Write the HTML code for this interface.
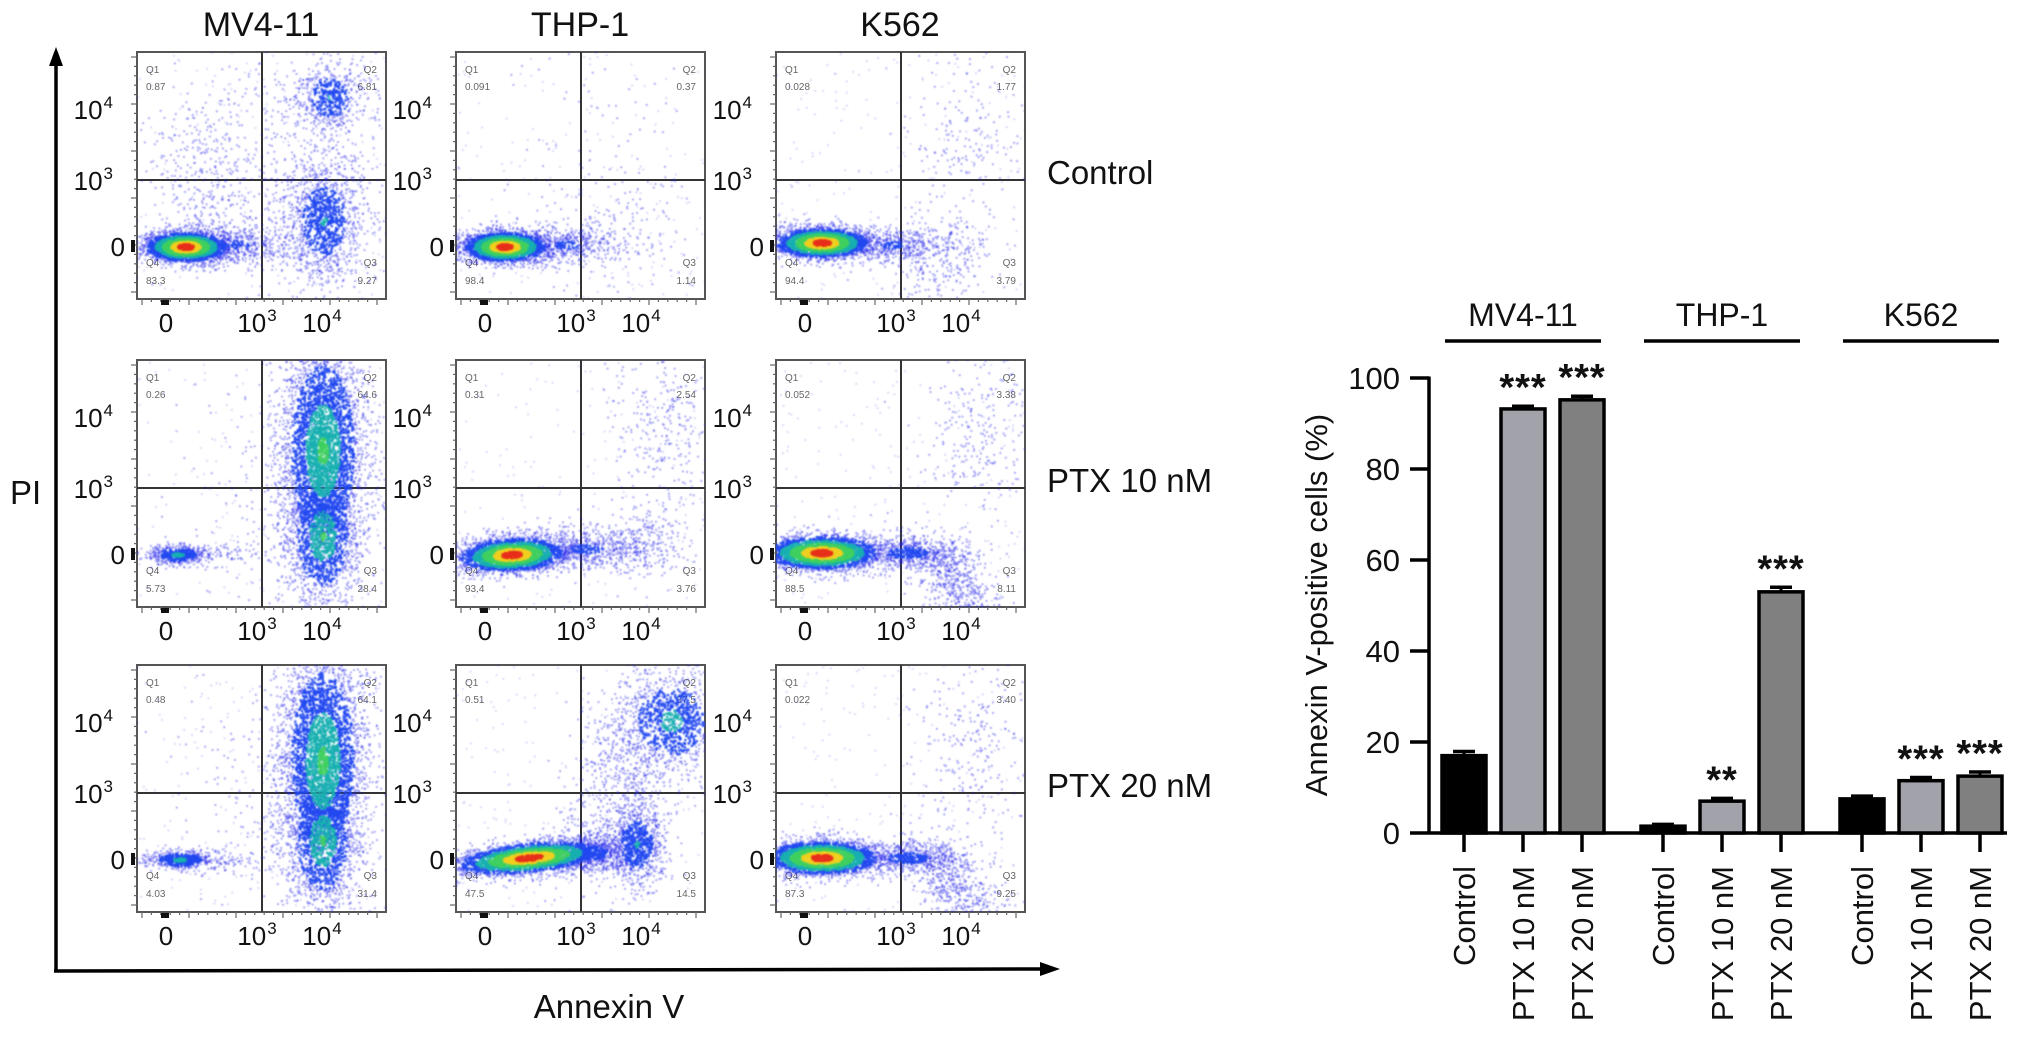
<!DOCTYPE html>
<html><head><meta charset="utf-8"><style>
html,body{margin:0;padding:0;background:#fff;}
#root{position:relative;width:2032px;height:1045px;overflow:hidden;font-family:"Liberation Sans",Arial,sans-serif;}
canvas{position:absolute;filter:blur(0.5px);}
svg{position:absolute;left:0;top:0;}
</style></head><body>
<div id="root">
<svg id="main" width="2032" height="1045"></svg>
</div>
<script>
// ---------- Bar chart data ----------
const groups = ["MV4-11", "THP-1", "K562"];
const conditions = ["Control", "PTX 10 nM", "PTX 20 nM"];
const values = [17.0, 93.2, 95.2, 1.5, 7.0, 53.0, 7.5, 11.5, 12.5];
const errors = [0.9, 0.6, 0.8, 0.4, 0.6, 1.0, 0.6, 0.7, 0.9];
const stars = ["", "***", "***", "", "**", "***", "", "***", "***"];
const yTicks = [0, 20, 40, 60, 80, 100];
const barColors = ["#000000", "#a2a2aa", "#808080"];

// ---------- Flow panel labels ----------
const rowLabels = ["Control", "PTX 10 nM", "PTX 20 nM"];
const q1Vals = [["0.87","0.091","0.028"],["0.26","0.31","0.052"],["0.48","0.51","0.022"]];
const q2Vals = [["6.81","0.37","1.77"],["64.6","2.54","3.38"],["64.1","37.5","3.40"]];
const q3Vals = [["9.27","1.14","3.79"],["28.4","3.76","8.11"],["31.4","14.5","9.25"]];
const q4Vals = [["83.3","98.4","94.4"],["5.73","93.4","88.5"],["4.03","47.5","87.3"]];

const NS = "http://www.w3.org/2000/svg";
const svg = document.getElementById('main');
function mk(tag, attrs, parent){
  const e = document.createElementNS(NS, tag);
  for (const k in attrs) e.setAttribute(k, attrs[k]);
  (parent||svg).appendChild(e);
  return e;
}
function txt(str, attrs, parent){
  const t = mk('text', attrs, parent);
  t.textContent = str;
  return t;
}

// ---------- Bar chart ----------
const Y0 = 833, PXU = 4.55, AXX = 1429;
function yS(v){ return Y0 - v * PXU; }
function xS(i){ return 1464 + i * 59 + Math.floor(i / 3) * 22; }
const bc = mk('g', {});


const yax = mk('line', {x1:AXX, y1:yS(100)-1.5, x2:AXX, y2:Y0+1.5, stroke:'#000','stroke-width':3.5}, bc);


const xax = mk('line', {x1:AXX, y1:Y0, x2:2007, y2:Y0, stroke:'#000','stroke-width':3.5}, bc);


yTicks.forEach(v => {
  const tl = mk('line', {x1:1410, y1:yS(v), x2:AXX, y2:yS(v), stroke:'#000','stroke-width':3.5}, bc);
  
  
  const t = txt(String(v), {x:1400, y:yS(v)+11, 'font-size':31, 'text-anchor':'end', fill:'#111'}, bc);
  
  
});
const yt = txt("Annexin V-positive cells (%)", {x:0, y:0, 'font-size':31, 'text-anchor':'middle', fill:'#111', transform:'translate(1327,605) rotate(-90)'}, bc);


values.forEach((v, i) => {
  const cx = xS(i), top = yS(v);
  const r = mk('rect', {x:cx-22, y:top, width:44, height:Y0-top, fill:barColors[i%3], stroke:'#000', 'stroke-width':3.5}, bc);
  
  
  const et = yS(v + errors[i]);
  const e1 = mk('line', {x1:cx, y1:top, x2:cx, y2:et, stroke:'#000','stroke-width':3}, bc);
  
  
  const e2 = mk('line', {x1:cx-11, y1:et, x2:cx+11, y2:et, stroke:'#000','stroke-width':3.5}, bc);
  
  
  const tk = mk('line', {x1:cx, y1:Y0, x2:cx, y2:Y0+19, stroke:'#000','stroke-width':3.5}, bc);
  
  
  const lb = txt(conditions[i%3], {x:0, y:0, 'font-size':31, 'text-anchor':'end', fill:'#111', transform:'translate('+(cx+11)+',866) rotate(-90)'}, bc);
  
  
  if (stars[i]) {
    const s = txt(stars[i], {x:cx, y:et-6, 'font-size':38, 'font-weight':'bold', 'text-anchor':'middle', fill:'#111', 'letter-spacing':1}, bc);
    
    
  }
});
groups.forEach((g, gi) => {
  const c = xS(gi*3+1);
  const t = txt(g, {x:c, y:326, 'font-size':32, 'text-anchor':'middle', fill:'#111'}, bc);
  
  
  const l = mk('line', {x1:c-78, y1:341, x2:c+78, y2:341, stroke:'#000','stroke-width':3.5}, bc);
  
  
});

// ---------- Flow panels ----------
const PW = 249, PH = 247;
const colX = [137, 456, 776];
const rowY = [52, 360, 665];
// cluster spec: [cx, cy, sx, sy, count, heat, tilt]
const clusters = [
 [
  [[48,194,22,8,2600,1,0],[100,192,30,10,500,0.3,0],[186,168,20,32,1100,0.45,0],[192,45,18,18,500,0.45,0],[70,125,30,45,400,0,0],[165,110,45,70,450,0,0]],
  [[48,194,22,8,2600,1,0],[110,192,30,10,500,0.3,0],[150,170,50,40,180,0,0],[150,80,60,60,50,0,0]],
  [[45,190,25,8,2600,1,0],[115,192,30,9,500,0.3,0],[165,210,25,22,250,0,0],[190,90,30,60,220,0,0]]
 ],
 [
  [[40,194,15,5,500,0.5,0],[85,194,25,6,90,0,0],[185,90,22,60,3600,0.62,0],[185,175,18,35,1200,0.6,0],[150,130,50,70,250,0,0]],
  [[55,194,28,9,2600,1,-0.05],[130,188,40,11,700,0.3,0],[205,70,25,45,280,0,0],[190,180,20,20,180,0.1,0]],
  [[45,192,30,9,2600,1,0],[130,192,30,8,600,0.35,0],[175,218,22,18,550,0.25,0.5],[200,70,30,45,260,0,0]]
 ],
 [
  [[42,194,18,5,500,0.5,0],[90,194,25,6,90,0,0],[185,95,22,62,3600,0.62,0],[185,175,18,35,1200,0.6,0],[150,130,50,70,250,0,0]],
  [[72,192,38,8,2800,1,-0.1],[135,187,22,10,600,0.35,0],[180,178,15,22,800,0.45,0],[215,55,28,28,1000,0.5,0],[165,110,28,50,700,0.15,-0.8]],
  [[45,192,30,9,2600,1,0],[130,192,30,8,600,0.35,0],[178,220,22,20,550,0.25,0.5],[200,80,30,55,260,0,0]]
 ]
];
let seed = 12345;
function rnd(){ seed |= 0; seed = seed + 0x6D2B79F5 | 0; let t = Math.imul(seed ^ seed >>> 15, 1 | seed); t = t + Math.imul(t ^ t >>> 7, 61 | t) ^ t; return ((t ^ t >>> 14) >>> 0) / 4294967296; }
function gauss(){ let u = rnd()||1e-9, v = rnd(); return Math.sqrt(-2*Math.log(u))*Math.cos(2*Math.PI*v); }
function heatColor(h){
  if (h > 0.85) return '#e8301c';
  if (h > 0.72) return '#f0d020';
  if (h > 0.56) return '#40d060';
  if (h > 0.42) return '#18b0b0';
  if (h > 0.25) return '#2248f0';
  return 'rgba(40,40,235,0.6)';
}
const root = document.getElementById('root');
for (let r = 0; r < 3; r++) for (let c = 0; c < 3; c++) {
  const px = colX[c], py = rowY[r];
  const cv = document.createElement('canvas');
  cv.width = PW; cv.height = PH;
  cv.style.left = px + 'px'; cv.style.top = py + 'px';
  
  
  root.appendChild(cv);
  const ctx = cv.getContext('2d');
  for (let k = 0; k < 200; k++) { ctx.fillStyle = 'rgba(70,70,230,0.4)'; ctx.fillRect(rnd()*PW, rnd()*PH, 1.4, 1.4); }
  const pts = [];
  clusters[r][c].forEach(cl => {
    for (let k = 0; k < cl[4]; k++) {
      const gx = gauss(), gy = gauss();
      const d = Math.sqrt(gx*gx + gy*gy);
      const h = cl[5] * Math.max(0, 1 - d/2.4);
      const dx = gx*cl[2], dy = gy*cl[3];
      pts.push([cl[0] + dx, cl[1] + dy + dx*cl[6], h]);
    }
  });
  pts.sort((a,b) => a[2]-b[2]);
  pts.forEach(p => { ctx.fillStyle = heatColor(p[2]); const s = p[2] > 0.25 ? 2.2 : 1.6; ctx.fillRect(p[0], p[1], s, s); });

  const g = mk('g', {});
  
  
  mk('rect', {x:px, y:py, width:PW, height:PH, fill:'none', stroke:'#555', 'stroke-width':2}, g);
  mk('line', {x1:px+125, y1:py, x2:px+125, y2:py+PH, stroke:'#333', 'stroke-width':2}, g);
  mk('line', {x1:px, y1:py+128, x2:px+PW, y2:py+128, stroke:'#333', 'stroke-width':2}, g);
  for (let k = 0; k < 26; k++) mk('line', {x1:px+5+k*9.4, y1:py+PH, x2:px+5+k*9.4, y2:py+PH+(k%5==0?6:3), stroke:'#666','stroke-width':1.2}, g);
  for (let k = 0; k < 26; k++) mk('line', {x1:px, y1:py+5+k*9.4, x2:px-(k%5==0?6:3), y2:py+5+k*9.4, stroke:'#666','stroke-width':1.2}, g);
  mk('rect', {x:px+24, y:py+PH+1, width:8, height:5, fill:'#111'}, g);
  mk('rect', {x:px-6, y:py+188, width:4, height:12, fill:'#111'}, g);
  const small = {'font-size':10, fill:'#666'};
  txt('Q1', Object.assign({x:px+9, y:py+21}, small), g);
  txt(q1Vals[r][c], Object.assign({x:px+9, y:py+38}, small), g);
  txt('Q2', Object.assign({x:px+PW-9, y:py+21, 'text-anchor':'end'}, small), g);
  txt(q2Vals[r][c], Object.assign({x:px+PW-9, y:py+38, 'text-anchor':'end'}, small), g);
  txt('Q4', Object.assign({x:px+9, y:py+214}, small), g);
  txt(q4Vals[r][c], Object.assign({x:px+9, y:py+232}, small), g);
  txt('Q3', Object.assign({x:px+PW-9, y:py+214, 'text-anchor':'end'}, small), g);
  txt(q3Vals[r][c], Object.assign({x:px+PW-9, y:py+232, 'text-anchor':'end'}, small), g);
  const lab = {'font-size':26, fill:'#111'};
  const yl = [['10','4',57],['10','3',128],['0','',194]];
  yl.forEach(t => {
    const e = txt(t[0], Object.assign({x:px-(t[1]?24:12), y:py+t[2]+10, 'text-anchor':'end'}, lab), g);
    if (t[1]) { const s = mk('tspan', {dx:1, dy:-11, 'font-size':17}, e); s.textContent = t[1]; }
    
    
  });
  const xl = [['0','',29],['10','3',126],['10','4',191]];
  xl.forEach(t => {
    const e = txt(t[0], Object.assign({x:px+t[2]-(t[1]?6:0), y:py+PH+33, 'text-anchor':'middle'}, lab), g);
    if (t[1]) { const s = mk('tspan', {dx:1, dy:-11, 'font-size':17}, e); s.textContent = t[1]; }
    
    
  });
}
groups.forEach((gname, c) => {
  const t = txt(gname, {x:colX[c]+124, y:36, 'font-size':34, 'text-anchor':'middle', fill:'#111'});
  
  
});
rowLabels.forEach((lb, r) => {
  const t = txt(lb, {x:1047, y:rowY[r]+132, 'font-size':33, fill:'#111'});
  
  
});
const ax1 = mk('path', {d:'M56 972 L56 60', stroke:'#000', 'stroke-width':3.5, fill:'none'});


mk('path', {d:'M49 66 L56 47 L63 66 Z', fill:'#000'});
const ax2 = mk('path', {d:'M54 971 L1045 969', stroke:'#000', 'stroke-width':3.5, fill:'none'});


mk('path', {d:'M1040 962 L1060 969 L1040 976 Z', fill:'#000'});
const pi = txt('PI', {x:10, y:504, 'font-size':33, fill:'#111'});


const an = txt('Annexin V', {x:609, y:1018, 'font-size':33, 'text-anchor':'middle', fill:'#111'});


</script>
</body></html>
